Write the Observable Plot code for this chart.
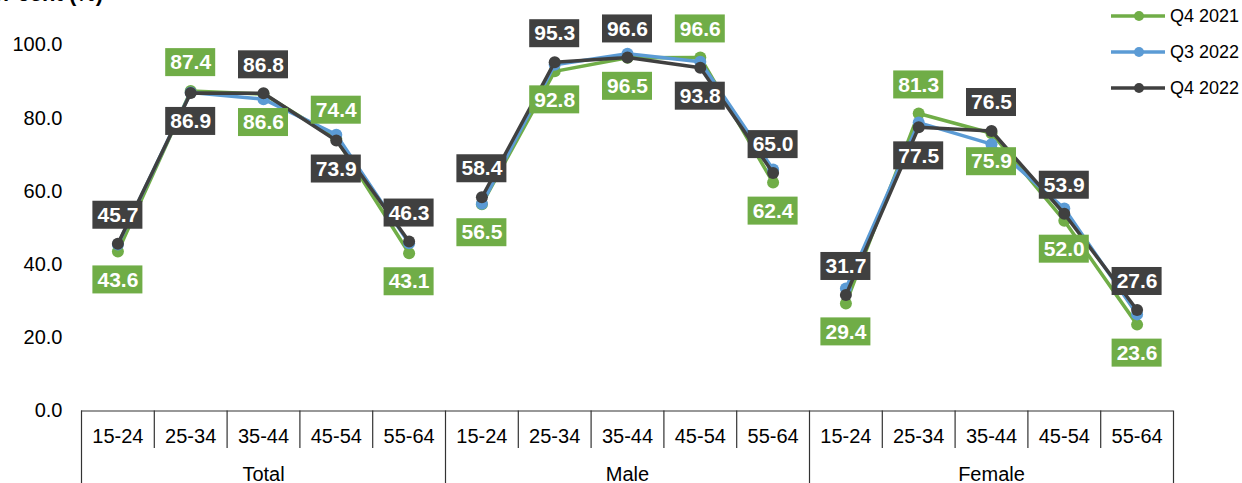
<!DOCTYPE html>
<html><head><meta charset="utf-8">
<script src="https://cdn.jsdelivr.net/npm/d3@7"></script>
<script src="https://cdn.jsdelivr.net/npm/@observablehq/plot@0.6"></script>
<style>
body{margin:0;background:#fff;font-family:"Liberation Sans",Arial,sans-serif;}
#wrap{position:relative;width:1242px;height:483px;overflow:hidden;background:#fff;}
#title{position:absolute;left:-24px;top:-17px;font-weight:bold;font-size:22px;line-height:22px;color:#000;white-space:nowrap;}
#legend{position:absolute;left:1111px;top:-2px;}
.row{display:flex;align-items:center;height:36px;font-size:18px;color:#000;}
.row svg{margin-right:5px;}
#chart{position:absolute;left:0;top:0;}
</style></head><body>
<div id="wrap"><div id="chart"></div><div id="title">Per cent (%)</div><div id="legend"></div></div>
<script>
const groups = ["Total", "Male", "Female"];
const ages = ["15-24", "25-34", "35-44", "45-54", "55-64"];
const seriesNames = ["Q4 2021", "Q3 2022", "Q4 2022"];
const seriesColors = ["#70AD47", "#5B9BD5", "#404040"];
const q4_2021 = [43.6, 87.4, 86.6, 74.4, 43.1, 56.5, 92.8, 96.5, 96.6, 62.4, 29.4, 81.3, 75.9, 52.0, 23.6];
const q3_2022 = [45.5, 87.0, 85.2, 75.5, 45.8, 56.6, 94.6, 97.6, 95.4, 66.0, 33.5, 78.8, 72.9, 55.3, 26.4];
const q4_2022 = [45.7, 86.9, 86.8, 73.9, 46.3, 58.4, 95.3, 96.6, 93.8, 65.0, 31.7, 77.5, 76.5, 53.9, 27.6];
const yTicks = [0, 20, 40, 60, 80, 100];
const labelledSeries = ["Q4 2021", "Q4 2022"];

const seriesValues = [q4_2021, q3_2022, q4_2022];
const rows = [];
seriesNames.forEach((s, si) => {
  groups.forEach((g, gi) => {
    ages.forEach((a, ai) => {
      const idx = gi * ages.length + ai;
      rows.push({series: s, group: g, age: a, idx, value: seriesValues[si][idx]});
    });
  });
});

// labels: the higher of the two labelled series goes above, the other below
const labels = [];
labelledSeries.forEach((s) => {
  const other = labelledSeries.find(o => o !== s);
  rows.filter(r => r.series === s).forEach(r => {
    const o = rows.find(q => q.series === other && q.idx === r.idx);
    labels.push({...r, above: r.value >= o.value});
  });
});
const above = labels.filter(d => d.above);
const below = labels.filter(d => !d.above);

const catRows = [];
groups.forEach((g, gi) => ages.forEach((a, ai) => catRows.push({label: a, idx: gi * ages.length + ai})));
const groupRows = groups.map((g, gi) => ({label: g, idx: gi * ages.length + (ages.length - 1) / 2}));
const n = groups.length * ages.length;
const minorDividers = d3.range(1, n).filter(i => i % ages.length !== 0).map(i => i - 0.5);
const majorDividers = d3.range(0, groups.length + 1).map(g => g * ages.length - 0.5);

const colorOf = s => seriesColors[seriesNames.indexOf(s)];

const seriesMarks = seriesNames.flatMap(s => {
  const data = rows.filter(r => r.series === s);
  return [
    Plot.line(data, {x: "idx", y: "value", z: "group", stroke: colorOf(s), strokeWidth: 3.5}),
    Plot.dot(data, {x: "idx", y: "value", r: 6, fill: colorOf(s), stroke: "none"})
  ];
});

const labelMarks = [[above, -28.5], [below, 28.5]].flatMap(([data, dy]) => [
  Plot.rect(data, {x1: "idx", x2: "idx", y1: "value", y2: "value", dy,
    insetLeft: -25, insetRight: -25, insetTop: -14, insetBottom: -14,
    fill: d => colorOf(d.series)}),
  Plot.text(data, {x: "idx", y: "value", dy, text: d => d.value.toFixed(1),
    fill: "#fff", fontSize: 21, fontWeight: "bold"})
]);

const chart = Plot.plot({
  width: 1242,
  height: 483,
  marginLeft: 81,
  marginRight: 69,
  marginTop: 44.5,
  marginBottom: 72.5,
  style: {fontFamily: "'Liberation Sans', Arial, sans-serif", fontSize: "20px", color: "#000", background: "transparent", overflow: "visible"},
  x: {type: "linear", domain: [-0.5, n - 0.5], axis: null},
  y: {domain: [0, 100], axis: null},
  marks: [
    Plot.axisY({ticks: yTicks, tickFormat: d3.format(".1f"), tickSize: 0, tickPadding: 19, fontSize: 20, fill: "#000", label: null}),
    Plot.ruleY([0], {stroke: "#333", strokeWidth: 1.2}),
    Plot.ruleX(minorDividers, {x: d => d, y1: 0, y2: 0, insetBottom: -37.5, stroke: "#333", strokeWidth: 1.2}),
    Plot.ruleX(majorDividers, {x: d => d, y1: 0, y2: 0, insetBottom: -80, stroke: "#333", strokeWidth: 1.2}),
    Plot.text(catRows, {x: "idx", y: 0, dy: 26, text: "label", fontSize: 20, fill: "#000"}),
    Plot.text(groupRows, {x: "idx", y: 0, dy: 63.5, text: "label", fontSize: 20, fill: "#000"}),
    ...seriesMarks,
    ...labelMarks
  ]
});
document.getElementById("chart").appendChild(chart);

// legend
const legend = d3.select("#legend");
seriesNames.forEach((s, i) => {
  const row = legend.append("div").attr("class", "row");
  const svg = row.append("svg").attr("width", 54).attr("height", 12);
  svg.append("line").attr("x1", 0).attr("x2", 54).attr("y1", 6).attr("y2", 6)
    .attr("stroke", seriesColors[i]).attr("stroke-width", 3.5);
  svg.append("circle").attr("cx", 28).attr("cy", 6).attr("r", 5).attr("fill", seriesColors[i]);
  row.append("span").text(s);
});
</script>
</body></html>
